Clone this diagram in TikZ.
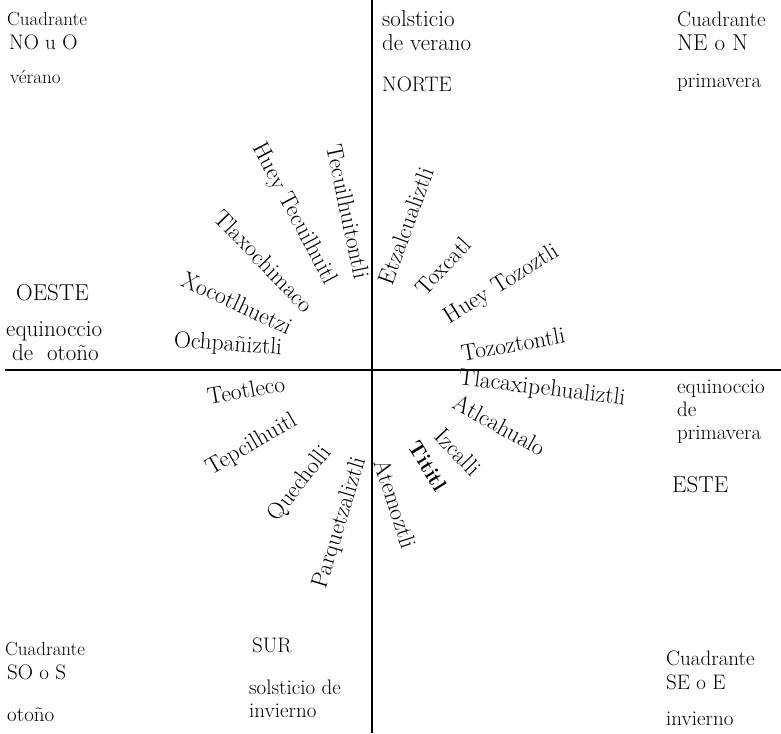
\documentclass[tikz,border=0pt]{standalone}
\usepackage{fontspec}
\usepackage{tikz}
\usetikzlibrary{positioning}

\begin{document}
\begin{tikzpicture}[
    x=1pt, y=-1pt,
    lbl/.style={inner sep=0pt, anchor=base west,
                font=\fontsize{21}{25}\selectfont},
    small/.style={lbl, font=\fontsize{19}{23}\selectfont},
    big/.style={lbl, font=\fontsize{23}{27}\selectfont},
    month/.style={inner sep=0pt, anchor=center,
                  font=\fontsize{23.5}{27}\selectfont},
    heavy/.style={month, font=\fontsize{21}{25}\selectfont\bfseries},
    axis/.style={line width=2.8pt},
  ]
    \useasboundingbox (0,0) rectangle (781,733);

    % ---- Axes ----
    \coordinate (N) at (372,0);
    \coordinate (S) at (372,733);
    \coordinate (W) at (5,370);
    \coordinate (E) at (781,370);
    \draw[axis] (N) -- (S);
    \draw[axis] (W) -- (E);

    % ---- Quadrant NO ----
    \node[small] (cNO) at (7,26)   {Cuadrante};
    \node[lbl]   (nNO) at (9,50)   {NO u O};
    \node[small] (vNO) at (10,84)  {vérano};
    \node[big]   (oes) at (16,300) {OESTE};
    \node[big]   (eqO) at (6,336)  {equinoccio};
    \node[big]   (deO) at (12,360) {de\ \ otoño};

    % ---- Norte ----
    \node[big] (sol) at (382,27) {solsticio};
    \node[big] (ver) at (382,51) {de verano};
    \node[lbl] (nor) at (382,92) {NORTE};

    % ---- Quadrant NE ----
    \node[lbl] (cNE) at (677,27) {Cuadrante};
    \node[big] (nNE) at (677,51) {NE o N};
    \node[lbl] (pNE) at (677,88) {primavera};

    % ---- Este ----
    \node[lbl] (eqE) at (677,393) {equinoccio};
    \node[lbl] (deE) at (677,416) {de};
    \node[lbl] (prE) at (677,439) {primavera};
    \node[big] (est) at (672,492) {ESTE};

    % ---- Quadrant SO and Sur ----
    \node[small] (cSO) at (5,655)   {Cuadrante};
    \node[lbl]   (nSO) at (7,679)   {SO o S};
    \node[lbl]   (oSO) at (7,721)   {otoño};
    \node[lbl]   (sur) at (252,652) {SUR};
    \node[lbl]   (sIn) at (249,694) {solsticio de};
    \node[lbl]   (inv) at (249,717) {invierno};

    % ---- Quadrant SE ----
    \node[lbl] (cSE) at (666,665) {Cuadrante};
    \node[lbl] (nSE) at (666,689) {SE o E};
    \node[lbl] (iSE) at (666,725) {invierno};

    % ---- Months, upper left ----
    \node[month, rotate=-78] (m1) at (348,212) {Tecuilhuitontli};
    \node[month, rotate=-62] (m2) at (294,214) {Huey Tecuilhuitl};
    \node[month, rotate=-46] (m3) at (264,261) {Tlaxochimaco};
    \node[month, rotate=-25] (m4) at (237,303) {Xocotlhuetzi};
    \node[month, rotate=-4]  (m5) at (228,345) {Ochpañiztli};

    % ---- Months, upper right ----
    \node[month, rotate=70] (m6) at (406,226) {Etzalcualiztli};
    \node[month, rotate=47] (m7) at (443,266) {Toxcatl};
    \node[month, rotate=32] (m8) at (502,285) {Huey Tozoztli};
    \node[month, rotate=10] (m9) at (513,344) {Tozoztontli};

    % ---- Months, lower right ----
    \node[month, rotate=-7]  (m10) at (542,389) {Tlacaxipehualiztli};
    \node[month, rotate=-29] (m11) at (500,425) {Atlcahualo};
    \node[month, rotate=-46] (m12) at (458,452) {Izcalli};
    \node[heavy, rotate=-58] (m13) at (428,466) {Tititl};
    \node[month, rotate=-72] (m14) at (396,504) {Atemoztli};

    % ---- Months, lower left ----
    \node[month, rotate=73] (m15) at (340,523) {Parquetzaliztli};
    \node[month, rotate=52] (m16) at (300,484) {Quecholli};
    \node[month, rotate=30] (m17) at (252,445) {Tepcilhuitl};
    \node[month, rotate=10] (m18) at (246,390) {Teotleco};
  \end{tikzpicture}
\end{document}
